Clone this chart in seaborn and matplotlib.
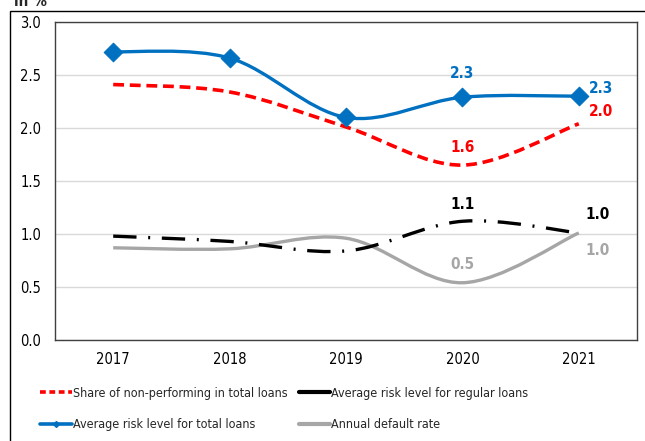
import numpy as np
import pandas as pd
import matplotlib
matplotlib.use("Agg")
import matplotlib.pyplot as plt
import seaborn as sns
from matplotlib.path import Path
from matplotlib.patches import PathPatch, Rectangle
from matplotlib.lines import Line2D

years = ["2017", "2018", "2019", "2020", "2021"]
share_npl = [2.41, 2.34, 2.01, 1.65, 2.04]
risk_regular = [0.98, 0.93, 0.84, 1.12, 1.01]
risk_total = [2.72, 2.66, 2.10, 2.29, 2.30]
default_rate = [0.87, 0.86, 0.96, 0.54, 1.01]
yticks = [0.0, 0.5, 1.0, 1.5, 2.0, 2.5, 3.0]

sns.set_theme(style="white")
plt.rcParams['font.family'] = ['DejaVu Sans']
plt.rcParams['font.stretch'] = 'condensed'

fig = plt.figure(figsize=(6.45, 4.41), dpi=100)
ax = fig.add_axes([55/645, 1-340/441, (637-55)/645, (340-22)/441])

BLUE = "#0070C0"
RED = "#FF0000"
GRAY = "#A6A6A6"
BLACK = "#000000"


def smooth_path(ys):
    xs = np.arange(len(ys), dtype=float)
    ys = np.asarray(ys, dtype=float)
    n = len(ys)
    verts = [(xs[0], ys[0])]
    codes = [Path.MOVETO]
    for i in range(n - 1):
        p0 = np.array([xs[max(i-1, 0)], ys[max(i-1, 0)]])
        p1 = np.array([xs[i], ys[i]])
        p2 = np.array([xs[i+1], ys[i+1]])
        p3 = np.array([xs[min(i+2, n-1)], ys[min(i+2, n-1)]])
        c1 = p1 + (p2 - p0) / 6.0
        c2 = p2 - (p3 - p1) / 6.0
        verts += [tuple(c1), tuple(c2), tuple(p2)]
        codes += [Path.CURVE4] * 3
    return Path(verts, codes)


def add_curve(ys, color, lw, dashes=None, z=2):
    patch = PathPatch(smooth_path(ys), facecolor="none", edgecolor=color,
                      lw=lw, zorder=z, capstyle="butt", joinstyle="round")
    if dashes is not None:
        patch.set_linestyle((0, dashes))
    ax.add_patch(patch)


add_curve(default_rate, GRAY, 2.4, z=2)
add_curve(risk_regular, BLACK, 2.4, dashes=(7, 3.5, 0.6, 3.5), z=3)
add_curve(share_npl, RED, 2.6, dashes=(3.0, 1.6), z=3)
add_curve(risk_total, BLUE, 2.4, z=4)

df = pd.DataFrame({"pos": np.arange(len(years)), "val": risk_total})
sns.scatterplot(data=df, x="pos", y="val", marker="D", s=90, color=BLUE,
                edgecolor=BLUE, ax=ax, zorder=5, legend=False)

ax.set_xlim(-0.5, len(years) - 0.5)
ax.set_ylim(0, 3.0)
ax.set_xticks(np.arange(len(years)))
ax.set_xticklabels(years)
ax.set_yticks(yticks)
ax.set_yticklabels([f"{v:.1f}" for v in yticks])
ax.set_xlabel("")
ax.set_ylabel("")
ax.yaxis.grid(True, color="#D9D9D9", lw=1)
ax.set_axisbelow(True)
for s in ax.spines.values():
    s.set_visible(True)
    s.set_color("#404040")
    s.set_linewidth(1.0)
ax.tick_params(axis="x", labelsize=10.5, colors="black", pad=9, length=0)
ax.tick_params(axis="y", labelsize=10.5, colors="black", pad=10, length=0)

fs = 11
ax.text(3, risk_total[3] + 0.22, f"{risk_total[3]:.1f}", color=BLUE, fontsize=fs,
        fontweight="bold", ha="center", va="center")
ax.text(4.19, risk_total[4] + 0.07, f"{risk_total[4]:.1f}", color=BLUE, fontsize=fs,
        fontweight="bold", ha="center", va="center")
ax.text(3, share_npl[3] + 0.17, f"{share_npl[3]:.1f}", color=RED, fontsize=fs,
        fontweight="bold", ha="center", va="center")
ax.text(4.19, share_npl[4] + 0.12, f"{share_npl[4]:.1f}", color=RED, fontsize=fs,
        fontweight="bold", ha="center", va="center")
ax.text(3, risk_regular[3] + 0.16, f"{risk_regular[3]:.1f}", color=BLACK, fontsize=fs,
        fontweight="bold", ha="center", va="center")
ax.text(4.16, risk_regular[4] + 0.17, f"{risk_regular[4]:.1f}", color=BLACK, fontsize=fs,
        fontweight="bold", ha="center", va="center")
ax.text(3, default_rate[3] + 0.17, f"{default_rate[3]:.1f}", color=GRAY, fontsize=fs,
        fontweight="bold", ha="center", va="center")
ax.text(4.16, default_rate[4] - 0.17, f"{default_rate[4]:.1f}", color=GRAY, fontsize=fs,
        fontweight="bold", ha="center", va="center")

handles = [
    Line2D([], [], color=RED, lw=2.6, dashes=(1.6, 1.0)),
    Line2D([], [], color=BLUE, lw=2.6, marker="D", markersize=3),
    Line2D([], [], color=BLACK, lw=3.0),
    Line2D([], [], color=GRAY, lw=3.0),
]
labels = ["Share of non-performing in total loans",
          "Average risk level for total loans",
          "Average risk level for regular loans",
          "Annual default rate"]
fig.legend(handles, labels, ncol=2, loc="center left",
           bbox_to_anchor=(34/645, 1-409/441), frameon=False, fontsize=9,
           handlelength=2.5, handletextpad=0.1, columnspacing=0.9,
           labelspacing=1.5, borderpad=0)

fig.add_artist(Rectangle((10/645, -0.1), 1.2, 1 - 11/441 + 0.1,
                         transform=fig.transFigure, fill=False,
                         edgecolor="black", lw=1.0))
fig.text(14/645, 0.997, "in %", fontsize=11, fontweight="bold", ha="left", va="center")

fig.savefig("out.png", dpi=100)
